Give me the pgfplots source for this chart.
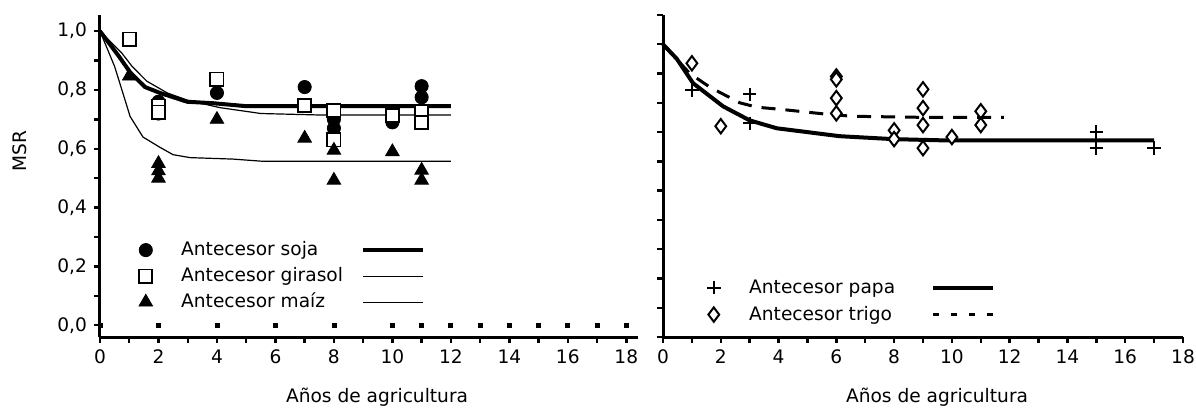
\documentclass[border=0pt]{standalone}
\usepackage{fontspec}
\setmainfont{DejaVu Sans}
\usepackage{pgfplots}
\pgfplotsset{compat=1.18}

\pgfplotsset{
  msr/.style={
    scale only axis, axis lines*=left, axis line style={line width=1.5pt},
    tick align=outside, tick style={black, line width=1.2pt},
    major tick length=3pt, minor tick length=3pt,
    xtick={0,2,...,18}, minor x tick num=1,
    font=\fontsize{9.3}{11}\selectfont,
    /pgf/number format/assume math mode=true,
    clip=false, legend cell align=left,
    legend style={draw=none, fill=none, inner sep=0pt, row sep=0pt,
      nodes={inner sep=1pt, text height=8pt, text depth=2.5pt}},
  },
  markimg/.style={legend image code/.code={
      \draw[mark repeat=1,##1] plot coordinates {(0pt,0pt)};
      \path (-8pt,0pt) (16.5pt,0pt);}},
  lineimg/.style={legend image code/.code={\draw[##1] (0pt,0pt) -- (30pt,0pt);}},
}

\begin{document}
\begin{tikzpicture}
\path[use as bounding box] (-50pt,-35.5pt) rectangle (548pt,168.5pt);

% izquierda: soja, girasol, maiz
\begin{axis}[msr, at={(0pt,0pt)}, width=269pt, height=161pt,
  xmin=0, xmax=18.4, ymin=-0.04, ymax=1.055,
  ytick={0,0.2,0.4,0.6,0.8,1.0}, minor y tick num=1,
  yticklabel style={/pgf/number format/.cd, fixed, fixed zerofill, precision=1, use comma},
  xlabel={Años de agricultura}, ylabel={MSR},
  every axis x label/.style={at={(axis description cs:0.515,0)}, anchor=center, yshift=-30pt},
  every axis y label/.style={at={(axis description cs:0,0.578)}, anchor=center, xshift=-40pt, rotate=90},
  legend columns=2,
  legend style={at={(axis description cs:0,0)}, anchor=south west, xshift=14.5pt, yshift=11pt, row sep=0.5pt}]
\addplot[forget plot, line width=2pt] coordinates {(0,1.0) (0.68,0.91) (1.03,0.86) (1.54,0.81) (2.05,0.79) (2.98,0.76) (3.87,0.755) (5.0,0.745) (7.5,0.745) (12,0.745)};
\addplot[forget plot, line width=0.6pt] coordinates {(0,1.0) (0.75,0.925) (1.1,0.88) (1.6,0.83) (2.3,0.79) (3.0,0.765) (4.1,0.74) (5.5,0.72) (7.5,0.715) (12,0.715)};
\addplot[forget plot, line width=0.6pt] coordinates {(0,1.0) (0.5,0.88) (0.75,0.80) (1.03,0.71) (1.47,0.64) (2.05,0.605) (2.5,0.58) (3.08,0.57) (4.55,0.565) (5.5,0.558) (7.5,0.558) (12,0.558)};
\addplot[forget plot, only marks, mark=square*, mark size=1pt] coordinates {(0,0) (2,0) (4,0) (6,0) (8,0) (10,0) (11,0) (12,0) (13,0) (14,0) (15,0) (16,0) (17,0) (18,0)};
\addplot[forget plot, only marks, mark=*, mark size=3.3pt] coordinates {(2,0.76) (2,0.72) (4,0.79) (7,0.81) (8,0.70) (8,0.67) (10,0.69) (11,0.813) (11,0.775)};
\addplot[forget plot, only marks, mark=square*, mark size=3.3pt, mark options={fill=white, draw=black, line width=0.9pt}] coordinates {(1,0.973) (2,0.745) (2,0.725) (4,0.837) (7,0.748) (8,0.73) (8,0.63) (10,0.714) (11,0.725) (11,0.69)};
\addplot[forget plot, only marks, mark=triangle*, mark size=3.9pt] coordinates {(1,0.847) (2,0.55) (2,0.525) (2,0.50) (4,0.70) (7,0.636) (8,0.595) (8,0.493) (10,0.59) (11,0.527) (11,0.493)};
\addlegendimage{markimg, only marks, mark=*, mark size=3.3pt}
\addlegendentry{\makebox[89pt][l]{Antecesor soja}}
\addlegendimage{lineimg, line width=2pt}
\addlegendentry{}
\addlegendimage{markimg, only marks, mark=square*, mark size=3.3pt, mark options={fill=white, draw=black, line width=0.9pt}}
\addlegendentry{\makebox[89pt][l]{Antecesor girasol}}
\addlegendimage{lineimg, line width=0.6pt}
\addlegendentry{}
\addlegendimage{markimg, only marks, mark=triangle*, mark size=3.9pt}
\addlegendentry{\makebox[89pt][l]{Antecesor maíz}}
\addlegendimage{lineimg, line width=0.6pt}
\addlegendentry{}
\end{axis}

% derecha: papa, trigo
\begin{axis}[msr, at={(281.5pt,0pt)}, width=260pt, height=161pt,
  xmin=0, xmax=18, ymin=0, ymax=1.1,
  ytick={0,0.1,...,1.1}, yticklabels={},
  xlabel={Años de agricultura},
  every axis x label/.style={at={(axis description cs:0.527,0)}, anchor=center, yshift=-30pt},
  legend columns=2,
  legend style={at={(axis description cs:0,0)}, anchor=south west, xshift=17pt, yshift=4.75pt, row sep=1pt}]
\addplot[forget plot, line width=2pt] coordinates {(0,1.0) (0.48,0.95) (1.04,0.867) (2.08,0.788) (3.0,0.74) (3.94,0.713) (6.12,0.686) (7.96,0.676) (9.6,0.672) (17,0.672)};
\addplot[forget plot, line width=1.5pt, dash pattern=on 7pt off 5pt] coordinates {(0,1.0) (0.93,0.9) (1.63,0.853) (2.66,0.80) (3.25,0.785) (4.05,0.778) (5.67,0.761) (6.57,0.754) (9.24,0.75) (11.8,0.75)};
\addplot[forget plot, only marks, mark=+, mark size=3.4pt, mark options={line width=0.9pt}] coordinates {(1,0.843) (3,0.829) (3,0.73) (15,0.70) (15,0.645) (17,0.645)};
\addplot[forget plot, only marks, mark=diamond*, mark size=3.6pt, mark options={fill=white, draw=black, line width=1pt}] coordinates {(1,0.935) (2,0.72) (6,0.89) (6,0.88) (6,0.816) (6,0.764) (8,0.706) (8,0.676) (9,0.846) (9,0.782) (9,0.724) (9,0.645) (10,0.683) (11,0.771) (11,0.724)};
\addlegendimage{markimg, only marks, mark=+, mark size=3.4pt, mark options={line width=0.9pt}}
\addlegendentry{\makebox[90pt][l]{Antecesor papa}}
\addlegendimage{lineimg, line width=2pt}
\addlegendentry{}
\addlegendimage{markimg, only marks, mark=diamond*, mark size=3.6pt, mark options={fill=white, draw=black, line width=1pt}}
\addlegendentry{\makebox[90pt][l]{Antecesor trigo}}
\addlegendimage{lineimg, line width=1.5pt, dash pattern=on 3pt off 6pt}
\addlegendentry{}
\end{axis}
\end{tikzpicture}
\end{document}
